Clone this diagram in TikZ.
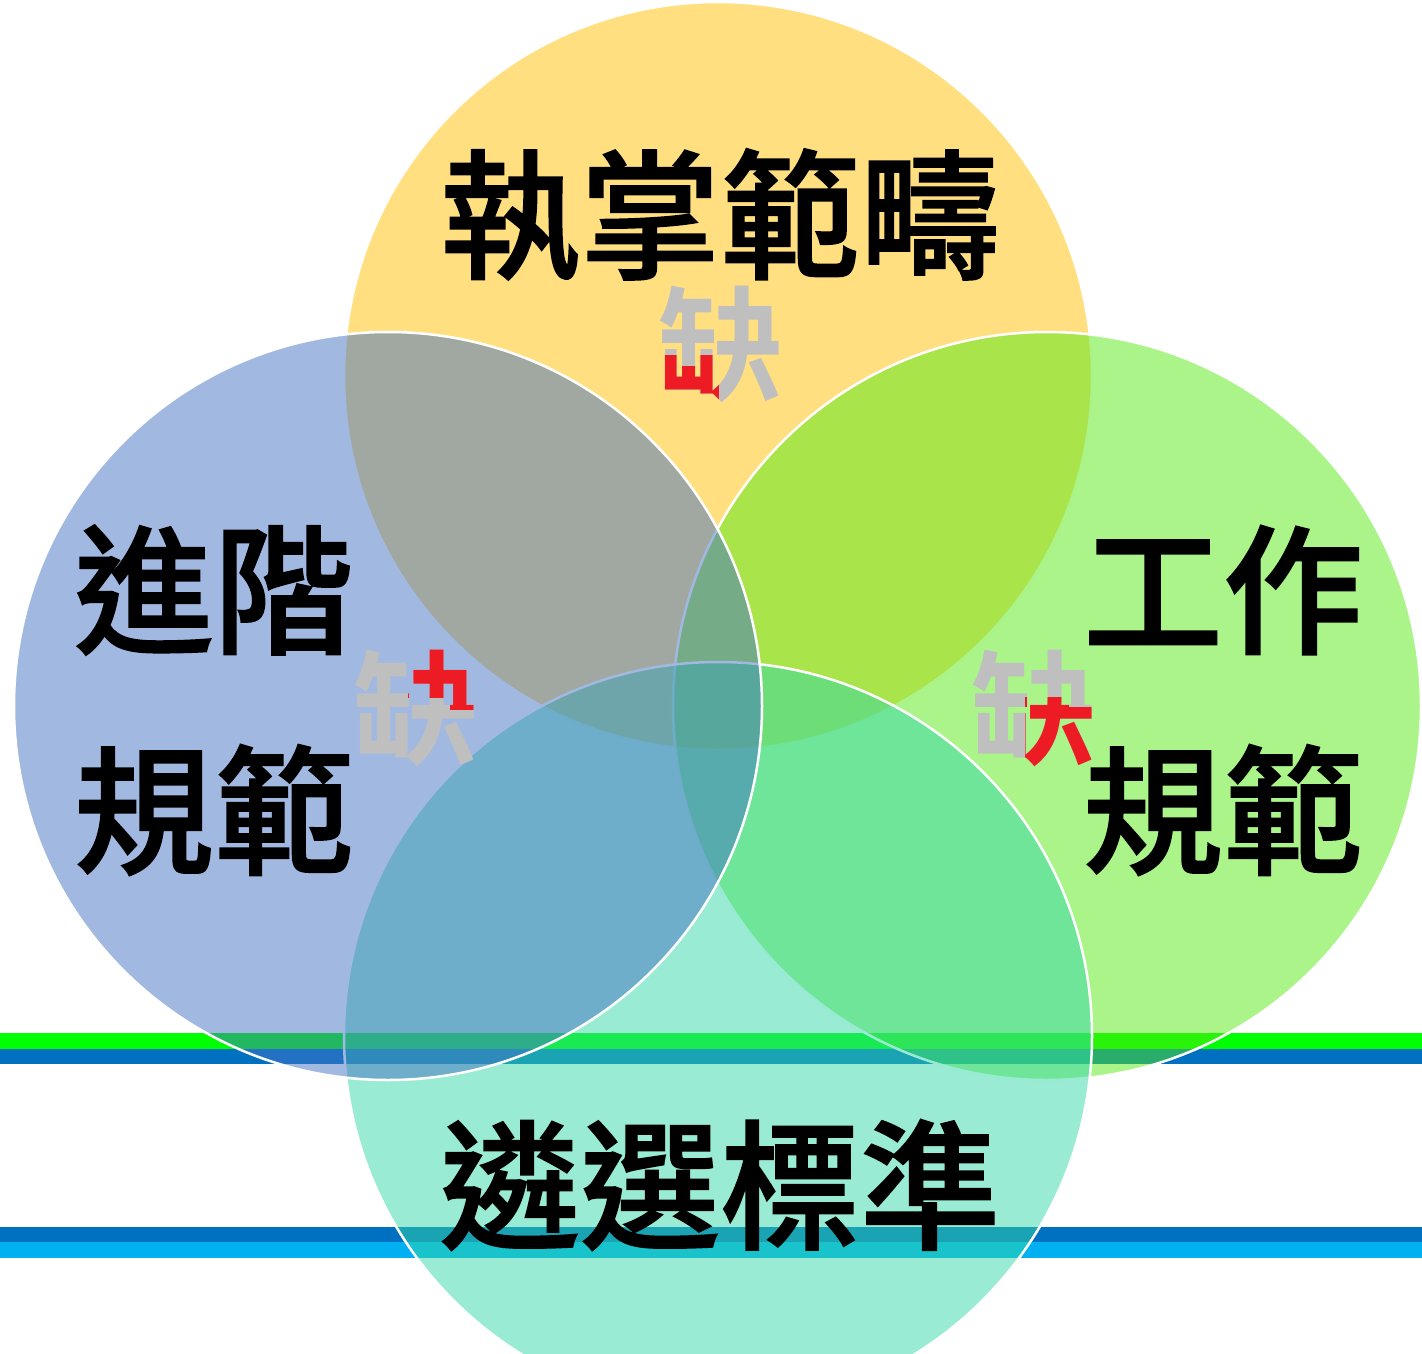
\documentclass[tikz,border=0pt]{standalone}
\usepackage{fontspec}
\IfFontExistsTF{Noto Sans CJK TC Medium}
  {\newfontfamily\cjk{Noto Sans CJK TC Medium}[FakeBold=1.2]}
  {\newfontfamily\cjk{Noto Sans CJK TC}[FakeBold=2.5]}
\IfFontExistsTF{Noto Sans CJK TC Bold}
  {\newfontfamily\cjkq{Noto Sans CJK TC Bold}}
  {\newfontfamily\cjkq{Noto Sans CJK TC}[FakeBold=3]}
\definecolor{cTop}{HTML}{FFC000}
\definecolor{cRight}{HTML}{55E915}
\definecolor{cBottom}{HTML}{33D7A7}
\definecolor{cLeft}{HTML}{4472C4}
\definecolor{barGreen}{HTML}{00FF00}
\definecolor{barBlue}{HTML}{0070C0}
\definecolor{barSky}{HTML}{00B0F0}
\definecolor{queGray}{HTML}{BFBFBF}
\definecolor{queRed}{HTML}{ED1C24}
\begin{document}
\begin{tikzpicture}[x=1pt,y=-1pt,
  circ/.style={circle,minimum size=748pt,inner sep=0pt,draw=white,line width=2.5pt,fill opacity=0.5,draw opacity=1},
  lbl/.style={inner sep=0pt,font=\cjk\fontsize{140}{150}\selectfont,text=black},
  que/.style={inner sep=0pt,font=\cjkq\fontsize{124}{130}\selectfont,text=queGray}]
\useasboundingbox (0,0) rectangle (1422,1354);
\clip (0,0) rectangle (1422,1354);
% bars
\fill[barGreen] (0,1033) rectangle (1422,1049);
\fill[barBlue] (0,1049) rectangle (1422,1064);
\fill[barBlue] (0,1227) rectangle (1422,1242);
\fill[barSky] (0,1242) rectangle (1422,1258);
% circles
\node[circ,fill=cTop] (ctop) at (718,376) {};
\node[circ,fill=cRight] (cright) at (1047,706) {};
\node[circ,fill=cBottom] (cbottom) at (718,1036) {};
\node[circ,fill=cLeft] (cleft) at (388,706) {};
% labels
\node[lbl] (t1) at (720,215) {執掌範疇};
\node[lbl] (t2) at (214,590) {進階};
\node[lbl] (t3) at (214,810) {規範};
\node[lbl] (t4) at (1223,590) {工作};
\node[lbl] (t5) at (1223,810) {規範};
\node[lbl] (t6) at (720,1185) {遴選標準};
% partial red marks
\node[que] (q1) at (720,345) {缺};
\begin{scope}
\clip (650,355) -- (681,355) -- (681,366) -- (697,366) -- (697,355) -- (718,355) -- (718,410) -- (650,410) -- cycle;
\node[que,text=queRed] (q1r) at (720,345) {缺};
\end{scope}
\node[que] (q2) at (415,708) {缺};
\begin{scope}
\clip (408,645) -- (475,645) -- (475,709) -- (450,709) -- (450,697) -- (408,697) -- cycle;
\node[que,text=queRed] (q2r) at (415,708) {缺};
\end{scope}
\node[que] (q3) at (1033,708) {缺};
\begin{scope}
\clip (1025,697) -- (1068,697) -- (1068,707) -- (1100,707) -- (1100,775) -- (1025,775) -- cycle;
\node[que,text=queRed] (q3r) at (1033,708) {缺};
\end{scope}
\end{tikzpicture}
\end{document}
